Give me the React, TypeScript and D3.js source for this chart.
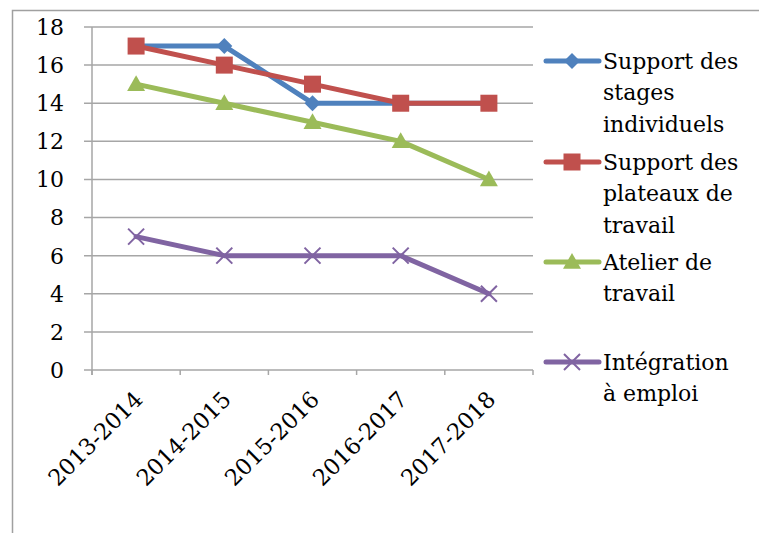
import React from "react";
import * as d3 from "d3";

const categories = ["2013-2014", "2014-2015", "2015-2016", "2016-2017", "2017-2018"];
const stagesIndividuels = [17, 17, 14, 14, 14];
const plateauxTravail = [17, 16, 15, 14, 14];
const atelierTravail = [15, 14, 13, 12, 10];
const integrationEmploi = [7, 6, 6, 6, 4];
const yTicks = [0, 2, 4, 6, 8, 10, 12, 14, 16, 18];

const series = [
  { name: ["Support des", "stages", "individuels"], values: stagesIndividuels, color: "#4F81BD", marker: "diamond" },
  { name: ["Support des", "plateaux de", "travail"], values: plateauxTravail, color: "#C0504D", marker: "square" },
  { name: ["Atelier de", "travail"], values: atelierTravail, color: "#9BBB59", marker: "triangle" },
  { name: ["Intégration", "à emploi"], values: integrationEmploi, color: "#8064A2", marker: "x" },
];

const W = 759, H = 533;
const plotL = 92, plotR = 533, plotT = 27, plotB = 370;
const FONT = "'DejaVu Serif', serif";

function Marker({ type, x, y, color }: { type: string; x: number; y: number; color: string }) {
  if (type === "diamond") {
    const s = 8;
    return <path d={`M${x},${y - s}L${x + s},${y}L${x},${y + s}L${x - s},${y}Z`} fill={color} />;
  }
  if (type === "square") {
    const s = 8.5;
    return <rect x={x - s} y={y - s} width={2 * s} height={2 * s} fill={color} />;
  }
  if (type === "triangle") {
    const s = 9;
    return <path d={`M${x},${y - s}L${x + s},${y + s * 0.75}L${x - s},${y + s * 0.75}Z`} fill={color} />;
  }
  const s = 8;
  return (
    <path d={`M${x - s},${y - s}L${x + s},${y + s}M${x + s},${y - s}L${x - s},${y + s}`} stroke={color} strokeWidth={2} fill="none" />
  );
}

export default function App() {
  const x = d3.scaleBand<string>().domain(categories).range([plotL, plotR]);
  const y = d3.scaleLinear().domain([0, 18]).range([plotB, plotT]);
  const cx = (c: string) => (x(c) ?? 0) + x.bandwidth() / 2;
  const line = d3
    .line<number>()
    .x((_, i) => cx(categories[i]))
    .y((v) => y(v));
  const grid = "#a6a6a6";
  const boundaries = categories.map((c) => x(c) ?? 0).concat([plotR]);
  const legendY = [61, 162, 262, 362];

  return (
    <svg width={W} height={H} style={{ position: "absolute", left: 0, top: 0 }} fontFamily={FONT}>
      <rect x={0} y={0} width={W} height={H} fill="#fff" />
      <path d={`M12.5,${H + 5}V10.5H${W + 5}`} stroke="#a0a0a0" strokeWidth={1.5} fill="none" />
      {yTicks.map((t) => (
        <g key={t}>
          <line x1={84} x2={plotR} y1={y(t)} y2={y(t)} stroke={grid} strokeWidth={1.5} />
          <text x={64} y={y(t)} dy="0.36em" textAnchor="end" fontSize={22} fill="#000">
            {t}
          </text>
        </g>
      ))}
      <line x1={plotL} x2={plotL} y1={plotT} y2={plotB + 5} stroke={grid} strokeWidth={1.5} />
      {boundaries.map((b, i) => (
        <line key={i} x1={b} x2={b} y1={plotB} y2={plotB + 5} stroke={grid} strokeWidth={1.5} />
      ))}
      {categories.map((c) => (
        <text
          key={c}
          transform={`translate(${cx(c) + 8},${plotB + 31}) rotate(-45)`}
          textAnchor="end"
          fontSize={22.5}
          fill="#000"
        >
          {c}
        </text>
      ))}
      {series.map((s, si) => (
        <g key={si}>
          <path d={line(s.values) ?? ""} stroke={s.color} strokeWidth={5} fill="none" strokeLinejoin="round" strokeLinecap="round" />
          {s.values.map((v, i) => (
            <Marker key={i} type={s.marker} x={cx(categories[i])} y={y(v)} color={s.color} />
          ))}
        </g>
      ))}
      {series.map((s, si) => (
        <g key={"l" + si}>
          <line x1={546} x2={599} y1={legendY[si]} y2={legendY[si]} stroke={s.color} strokeWidth={5} strokeLinecap="round" />
          <Marker type={s.marker} x={572} y={legendY[si]} color={s.color} />
          {s.name.map((ln, li) => (
            <text key={li} x={603} y={legendY[si] + li * 31.5} dy="0.36em" fontSize={22} fill="#000">
              {ln}
            </text>
          ))}
        </g>
      ))}
    </svg>
  );
}
